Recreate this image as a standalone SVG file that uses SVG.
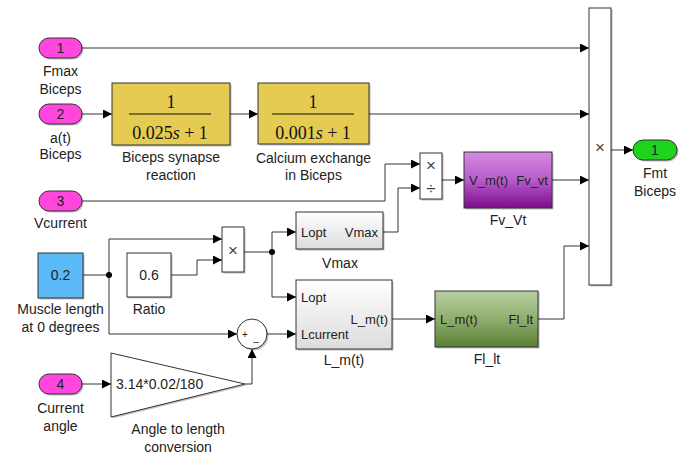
<svg xmlns="http://www.w3.org/2000/svg" width="689" height="454" viewBox="0 0 689 454">
<style>
text{font-family:"Liberation Sans",Arial,sans-serif;fill:#222}
.lbl{font-size:14px;text-anchor:middle}
.port{font-size:13px}
.num{font-size:14px;text-anchor:middle}
.tf{font-family:"Liberation Serif","Times New Roman",serif;font-size:18px;text-anchor:middle;fill:#111}
.blk{stroke:#333;stroke-width:1}
.sh{fill:#000;opacity:0.25}
.wire{fill:none;stroke:#333;stroke-width:1;marker-end:url(#ah)}
.wn{fill:none;stroke:#333;stroke-width:1}
.sym{font-size:17px;text-anchor:middle;fill:#444}
</style>
<defs>
<marker id="ah" markerUnits="userSpaceOnUse" markerWidth="9" markerHeight="9" refX="9" refY="4.5" orient="auto">
<path d="M0,0 L9,4.5 L0,9 z" fill="#000"/>
</marker>
<linearGradient id="gPur" x1="0" y1="0" x2="0" y2="1">
<stop offset="0" stop-color="#d68ae2"/><stop offset="0.5" stop-color="#b85ccc"/><stop offset="1" stop-color="#7c0c8c"/>
</linearGradient>
<linearGradient id="gGrn" x1="0" y1="0" x2="0" y2="1">
<stop offset="0" stop-color="#b8d0a0"/><stop offset="0.5" stop-color="#8fae6e"/><stop offset="1" stop-color="#5a7e34"/>
</linearGradient>
<linearGradient id="gGry" x1="0" y1="0" x2="0" y2="1">
<stop offset="0" stop-color="#ffffff"/><stop offset="1" stop-color="#dcdcdc"/>
</linearGradient>
</defs>

<g id="connectors">
<path class="wire" d="M82,48 H589"/>
<path class="wire" d="M82,114 H112"/>
<path class="wire" d="M230,114 H258"/>
<path class="wire" d="M369,114 H589"/>
<path class="wire" d="M82,201 H385 V164 H420"/>
<path class="wire" d="M383,232 H398 V188 H420"/>
<path class="wire" d="M442,180 H464"/>
<path class="wire" d="M552,180 H589"/>
<path class="wire" d="M611,150 H633"/>
<path class="wn" d="M83,275 H109"/>
<path class="wire" d="M109,275 V239 H222"/>
<path class="wire" d="M109,275 V334 H237"/>
<path class="wire" d="M171,275 H197 V260 H222"/>
<path class="wn" d="M244,252 H272"/>
<path class="wire" d="M272,252 V232 H296"/>
<path class="wire" d="M272,252 V297 H296"/>
<path class="wire" d="M267,334 H296"/>
<path class="wire" d="M245,384 H252 V349"/>
<path class="wire" d="M82,384 H111"/>
<path class="wire" d="M392,319 H435"/>
<path class="wire" d="M538,319 H564 V246 H589"/>
<circle cx="109" cy="275" r="3" fill="#000"/>
<circle cx="272" cy="252" r="3" fill="#000"/>
</g>

<g id="in1">
<rect class="sh" x="40.5" y="39.5" width="43" height="20" rx="10"/>
<rect class="blk" x="39" y="38" width="43" height="20" rx="10" fill="#ff47de"/>
<text class="num" x="60.5" y="53">1</text>
<text class="lbl" x="60.5" y="76">Fmax</text>
<text class="lbl" x="60.5" y="94">Biceps</text>
</g>
<g id="in2">
<rect class="sh" x="40.5" y="105.5" width="43" height="20" rx="10"/>
<rect class="blk" x="39" y="104" width="43" height="20" rx="10" fill="#ff47de"/>
<text class="num" x="60.5" y="119">2</text>
<text class="lbl" x="60.5" y="143">a(t)</text>
<text class="lbl" x="60.5" y="159">Biceps</text>
</g>
<g id="in3">
<rect class="sh" x="40.5" y="192.5" width="43" height="20" rx="10"/>
<rect class="blk" x="39" y="191" width="43" height="20" rx="10" fill="#ff47de"/>
<text class="num" x="60.5" y="206">3</text>
<text class="lbl" x="60.5" y="228">Vcurrent</text>
</g>
<g id="in4">
<rect class="sh" x="40.5" y="375.5" width="43" height="20" rx="10"/>
<rect class="blk" x="39" y="374" width="43" height="20" rx="10" fill="#ff47de"/>
<text class="num" x="60.5" y="389">4</text>
<text class="lbl" x="60.5" y="413">Current</text>
<text class="lbl" x="60.5" y="431">angle</text>
</g>

<g id="tf1">
<rect class="sh" x="113.5" y="84.5" width="118" height="62"/>
<rect class="blk" x="112" y="83" width="118" height="62" fill="#e5cb52"/>
<text class="tf" x="171" y="108">1</text>
<line x1="129" y1="114" x2="211" y2="114" stroke="#111" stroke-width="1.2"/>
<text class="tf" x="170" y="139">0.025<tspan font-style="italic">s</tspan> + 1</text>
<text class="lbl" x="171" y="162">Biceps synapse</text>
<text class="lbl" x="171" y="180">reaction</text>
</g>
<g id="tf2">
<rect class="sh" x="259.5" y="84.5" width="111" height="61"/>
<rect class="blk" x="258" y="83" width="111" height="61" fill="#e5cb52"/>
<text class="tf" x="313" y="108">1</text>
<line x1="272" y1="114" x2="354" y2="114" stroke="#111" stroke-width="1.2"/>
<text class="tf" x="313" y="139">0.001<tspan font-style="italic">s</tspan> + 1</text>
<text class="lbl" x="313.5" y="163">Calcium exchange</text>
<text class="lbl" x="313.5" y="180">in Biceps</text>
</g>

<g id="prodBig">
<rect class="sh" x="590.5" y="9.5" width="22" height="277"/>
<rect class="blk" x="589" y="8" width="22" height="277" fill="#fff"/>
<text class="sym" x="600" y="153">×</text>
</g>
<g id="out1">
<rect class="sh" x="634.5" y="141.5" width="44" height="20" rx="10"/>
<rect class="blk" x="633" y="140" width="44" height="20" rx="10" fill="#1ed31e"/>
<text class="num" x="655" y="155">1</text>
<text class="lbl" x="655" y="178">Fmt</text>
<text class="lbl" x="655" y="196">Biceps</text>
</g>

<g id="divide">
<rect class="sh" x="421.5" y="154.5" width="22" height="46"/>
<rect class="blk" x="420" y="153" width="22" height="46" fill="#fff"/>
<text class="sym" x="431" y="171">×</text>
<text class="sym" x="431" y="194">÷</text>
</g>
<g id="fv">
<rect class="sh" x="465.5" y="153.5" width="88" height="56"/>
<rect class="blk" x="464" y="152" width="88" height="56" fill="url(#gPur)"/>
<text class="port" x="469" y="185">V_m(t)</text>
<text class="port" x="548" y="185" text-anchor="end">Fv_vt</text>
<text class="lbl" x="508" y="225">Fv_Vt</text>
</g>

<g id="const02">
<rect class="sh" x="39.5" y="254.5" width="45" height="45"/>
<rect class="blk" x="38" y="253" width="45" height="45" fill="#5bbaf7"/>
<text class="num" x="60.5" y="280">0.2</text>
<text class="lbl" x="60.5" y="314">Muscle length</text>
<text class="lbl" x="60.5" y="332">at 0 degrees</text>
</g>
<g id="ratio">
<rect class="sh" x="128.5" y="254.5" width="44" height="44"/>
<rect class="blk" x="127" y="253" width="44" height="44" fill="#fff"/>
<text class="num" x="149" y="280">0.6</text>
<text class="lbl" x="149" y="314">Ratio</text>
</g>
<g id="prodSmall">
<rect class="sh" x="223.5" y="228.5" width="22" height="45"/>
<rect class="blk" x="222" y="227" width="22" height="45" fill="#fff"/>
<text class="sym" x="233" y="256">×</text>
</g>
<g id="vmax">
<rect class="sh" x="297.5" y="213.5" width="87" height="37"/>
<rect class="blk" x="296" y="212" width="87" height="37" fill="url(#gGry)"/>
<text class="port" x="301" y="237">Lopt</text>
<text class="port" x="378" y="237" text-anchor="end">Vmax</text>
<text class="lbl" x="340" y="268">Vmax</text>
</g>
<g id="lm">
<rect class="sh" x="297.5" y="281.5" width="96" height="69"/>
<rect class="blk" x="296" y="280" width="96" height="69" fill="url(#gGry)"/>
<text class="port" x="301" y="302">Lopt</text>
<text class="port" x="301" y="339">Lcurrent</text>
<text class="port" x="388" y="324" text-anchor="end">L_m(t)</text>
<text class="lbl" x="344" y="365">L_m(t)</text>
</g>
<g id="sum">
<circle cx="253.5" cy="335.5" r="15" fill="#000" opacity="0.25"/>
<circle class="blk" cx="252" cy="334" r="15" fill="#fff"/>
<text x="245" y="338" font-size="10" text-anchor="middle">+</text>
<text x="256" y="341" font-size="10" text-anchor="middle">_</text>
</g>
<g id="gain">
<polygon points="112.5,354.5 246.5,385.5 112.5,418.5" fill="#000" opacity="0.25"/>
<polygon class="blk" points="111,353 245,384 111,417" fill="#fff"/>
<text x="116" y="389" font-size="14">3.14*0.02/180</text>
<text class="lbl" x="178" y="434">Angle to length</text>
<text class="lbl" x="178" y="452">conversion</text>
</g>
<g id="fl">
<rect class="sh" x="436.5" y="292.5" width="103" height="56"/>
<rect class="blk" x="435" y="291" width="103" height="56" fill="url(#gGrn)"/>
<text class="port" x="440" y="324">L_m(t)</text>
<text class="port" x="533" y="324" text-anchor="end">Fl_lt</text>
<text class="lbl" x="487" y="364">Fl_lt</text>
</g>
</svg>
